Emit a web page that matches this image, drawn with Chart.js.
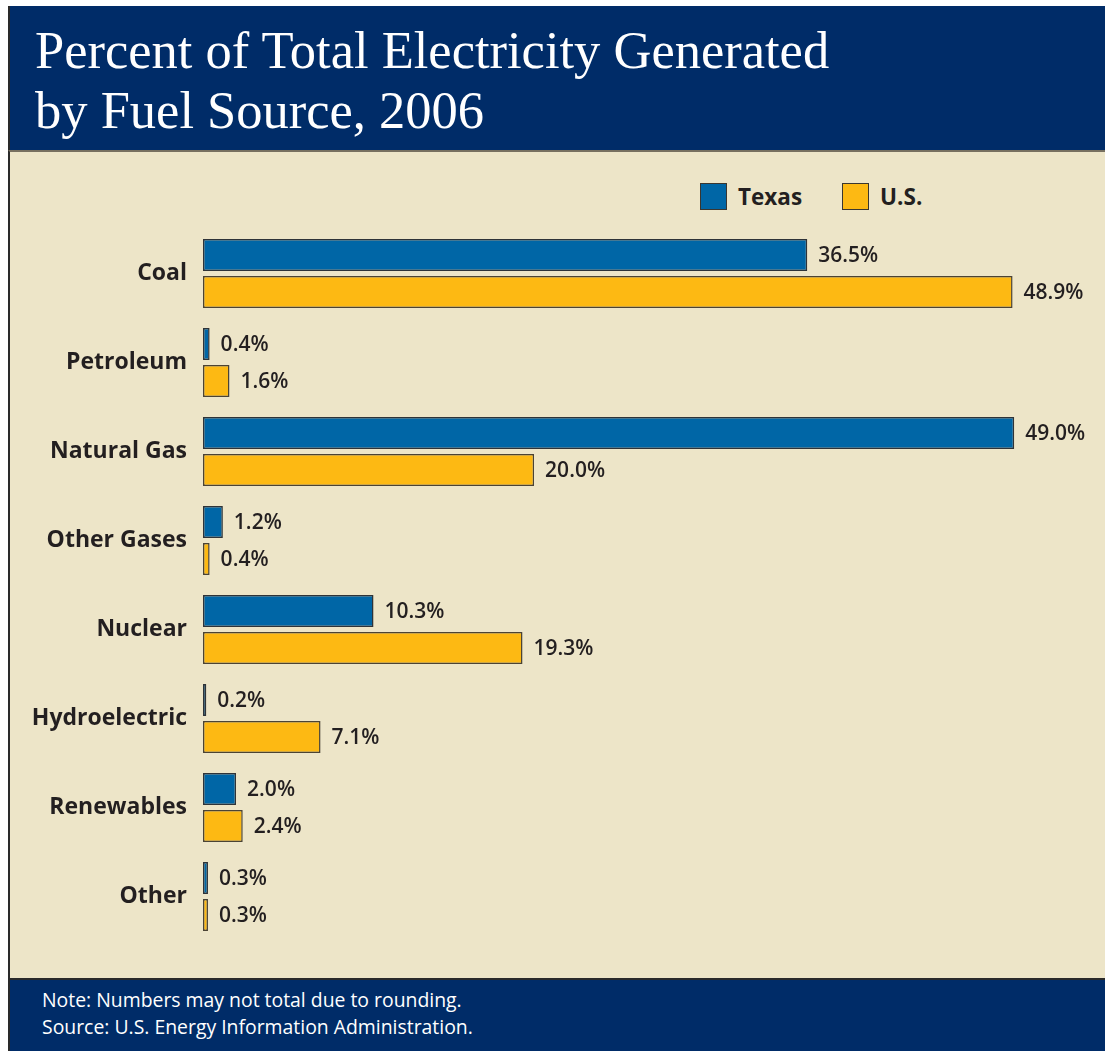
<!DOCTYPE html>
<html>
<head>
<meta charset="utf-8">
<script src="https://cdn.jsdelivr.net/npm/chart.js@4/dist/chart.umd.min.js"></script>
<style>
  html, body { margin:0; padding:0; background:#ffffff; }
  body { width:1105px; height:1051px; position:relative; overflow:hidden; }
  #banner { position:absolute; left:8px; top:6px; width:1097px; height:144px; background:#002c68; border-left:2px solid #2a2a2a; box-sizing:border-box; }
  #title { position:absolute; left:35px; top:20px; margin:0; color:#ffffff; font-family:"Liberation Serif","DejaVu Serif",serif; font-weight:normal; font-size:52.5px; line-height:60px; }
  #panel { position:absolute; left:8px; top:150px; width:1097px; height:830px; background:#ede5c8; border-left:2px solid #2a2a2a; border-top:2px solid #777060; border-bottom:2px solid #2a2a2a; box-sizing:border-box; }
  #footer { position:absolute; left:8px; top:980px; width:1097px; height:71px; background:#002c68; border-left:2px solid #2a2a2a; box-sizing:border-box; }
  #note { position:absolute; left:42px; top:986px; color:#ffffff; font-family:"Open Sans","Noto Sans",sans-serif; font-size:19.4px; line-height:27px; }
  #legend { position:absolute; left:700px; top:182px; height:28px; display:flex; align-items:center; font-family:"Open Sans","Noto Sans",sans-serif; font-weight:700; font-size:22.5px; color:#231f20; }
  .lg-item { display:flex; align-items:center; margin-right:40px; }
  .lg-box { width:25px; height:25px; border:1.5px solid #3a3630; margin-right:11px; }
  #chart-wrap { position:absolute; left:0; top:0; width:1105px; height:1051px; }
</style>
</head>
<body>
<div id="banner"></div>
<h1 id="title">Percent of Total Electricity Generated<br>by Fuel Source, 2006</h1>
<div id="panel"></div>
<div id="footer"></div>
<div id="note">Note: Numbers may not total due to rounding.<br>Source: U.S. Energy Information Administration.</div>
<div id="legend"></div>
<div id="chart-wrap"><canvas id="c" width="1105" height="1051"></canvas></div>
<script>
const categories = ["Coal", "Petroleum", "Natural Gas", "Other Gases", "Nuclear", "Hydroelectric", "Renewables", "Other"];
const seriesNames = ["Texas", "U.S."];
const texasValues = [36.5, 0.4, 49.0, 1.2, 10.3, 0.2, 2.0, 0.3];
const usValues = [48.9, 1.6, 20.0, 0.4, 19.3, 7.1, 2.4, 0.3];
const seriesColors = ["#0066a6", "#fdb913"];

// HTML legend built from series
const lg = document.getElementById('legend');
seriesNames.forEach((n, i) => {
  const it = document.createElement('div'); it.className = 'lg-item';
  const b = document.createElement('div'); b.className = 'lg-box'; b.style.background = seriesColors[i];
  const t = document.createElement('span'); t.textContent = n;
  it.appendChild(b); it.appendChild(t); lg.appendChild(it);
});

const valueLabels = {
  id: 'valueLabels',
  afterDatasetsDraw(chart) {
    const ctx = chart.ctx;
    ctx.save();
    ctx.font = '600 21px "Open Sans", "Noto Sans", sans-serif';
    ctx.fillStyle = '#231f20';
    ctx.textAlign = 'left';
    ctx.textBaseline = 'middle';
    chart.data.datasets.forEach((ds, di) => {
      const meta = chart.getDatasetMeta(di);
      meta.data.forEach((el, i) => {
        ctx.fillText(ds.data[i].toFixed(1) + '%', el.x + 11, el.y + 1);
      });
    });
    ctx.restore();
  }
};

new Chart(document.getElementById('c'), {
  type: 'bar',
  data: {
    labels: categories,
    datasets: [
      { label: seriesNames[0], data: texasValues, backgroundColor: seriesColors[0], borderColor: '#2e3338', borderWidth: 1.5, borderSkipped: false },
      { label: seriesNames[1], data: usValues, backgroundColor: seriesColors[1], borderColor: '#4a4335', borderWidth: 1.5, borderSkipped: false }
    ]
  },
  options: {
    indexAxis: 'y',
    responsive: false,
    animation: false,
    devicePixelRatio: 1,
    categoryPercentage: 0.831,
    barPercentage: 0.865,
    layout: { padding: { top: 229, bottom: 110, left: 0, right: 8 } },
    plugins: { legend: { display: false }, tooltip: { enabled: false } },
    scales: {
      x: { display: false, min: 0, max: 54 },
      y: {
        grid: { display: false, drawTicks: false },
        border: { display: false },
        ticks: { color: '#231f20', font: { family: '"Open Sans", "Noto Sans", sans-serif', weight: '700', size: 23 }, padding: 16 },
        afterFit(scale) { scale.width = 203; }
      }
    }
  },
  plugins: [valueLabels]
});
</script>
</body>
</html>
